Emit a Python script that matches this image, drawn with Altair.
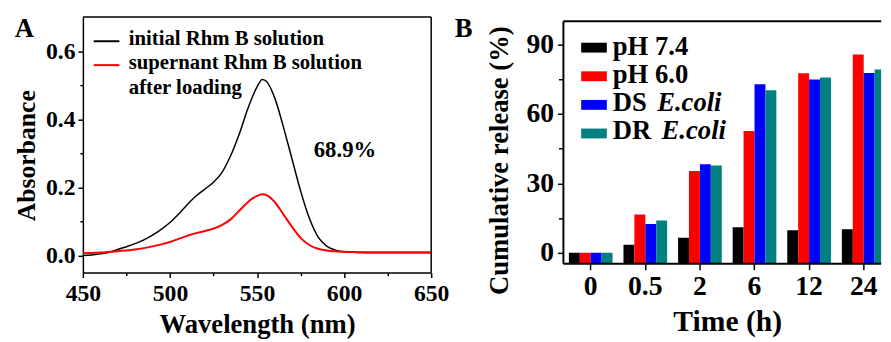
import altair as alt
import pandas as pd

FONT = "Liberation Serif"

# ---------------- Panel A data ----------------
wl_initial = [450, 455, 460, 465, 470, 475, 480, 485, 490, 495, 500, 505, 510, 515, 520,
              525, 530, 535, 540, 545, 550, 553, 555, 560, 565, 570, 575, 580, 585, 590,
              595, 600, 610, 620, 650]
abs_initial = [0.000, 0.002, 0.005, 0.010, 0.018, 0.026, 0.035, 0.046, 0.060, 0.077, 0.097,
               0.122, 0.150, 0.175, 0.195, 0.215, 0.245, 0.295, 0.360, 0.435, 0.495, 0.517,
               0.513, 0.465, 0.380, 0.285, 0.190, 0.110, 0.055, 0.028, 0.016, 0.011, 0.009,
               0.008, 0.008]
wl_super = [450, 460, 470, 480, 490, 495, 500, 505, 510, 515, 520, 525, 530, 535, 540, 545,
            550, 553, 556, 560, 565, 570, 575, 580, 585, 590, 600, 610, 650]
abs_super = [0.007, 0.009, 0.013, 0.018, 0.027, 0.033, 0.040, 0.049, 0.058, 0.066, 0.072,
             0.079, 0.090, 0.107, 0.133, 0.158, 0.175, 0.180, 0.176, 0.158, 0.122, 0.085,
             0.052, 0.031, 0.020, 0.015, 0.011, 0.010, 0.010]
legend_a = ["initial Rhm B solution", "supernant Rhm B solution", "after loading"]
legend_a_colors = ["#000000", "#ff0000"]
loading_label = "68.9%"

# ---------------- Panel B data ----------------
times = ["0", "0.5", "2", "6", "12", "24"]
series_b = ["pH 7.4", "pH 6.0", "DS E.coli", "DR E.coli"]
legend_b_main = ["pH 7.4", "pH 6.0", "DS", "DR"]
legend_b_italic = ["", "", "E.coli", "E.coli"]
colors_b = ["#000000", "#ff0000", "#0000ff", "#008080"]
ph74 = [0, 3.5, 6.5, 11.1, 9.8, 10.2]
ph60 = [0, 16.6, 35.3, 52.6, 77.5, 85.6]
ds_ecoli = [0, 12.5, 38.3, 72.8, 74.8, 77.7]
dr_ecoli = [0, 14.0, 37.7, 70.2, 75.7, 79.2]

AX = dict(labelFont=FONT, titleFont=FONT, labelFontWeight="bold", titleFontWeight="bold",
          labelColor="black", titleColor="black", tickColor="black", domainColor="black",
          tickWidth=1.5, domainWidth=1.5, grid=False)

# ---------------- Panel A ----------------
WA, HA = 353, 259
one = pd.DataFrame({"k": [0]})

df_init = pd.DataFrame({"wl": wl_initial, "ab": abs_initial})
df_sup = pd.DataFrame({"wl": wl_super, "ab": abs_super})

xA = alt.X("wl:Q", scale=alt.Scale(domain=[450, 650], nice=False, zero=False),
           axis=alt.Axis(title="Wavelength (nm)", values=list(range(450, 651, 25)),
                         labelExpr="datum.value % 50 == 0 ? datum.label : ''",
                         tickSize={"condition": {"test": "datum.value % 50 == 0", "value": 5}, "value": 3},
                         labelFlush=False, labelOverlap=False, labelFontSize=24, labelPadding=4,
                         titleFontSize=27, titleY=61, titleBaseline="alphabetic", **AX))
yA = alt.Y("ab:Q", scale=alt.Scale(domain=[-0.05, 0.7], nice=False, zero=False),
           axis=alt.Axis(title="Absorbance", values=[0, 0.1, 0.2, 0.3, 0.4, 0.5, 0.6],
                         labelExpr="round(datum.value*10) % 2 == 0 ? format(datum.value, '.1f') : ''",
                         tickSize={"condition": {"test": "round(datum.value*10) % 2 == 0", "value": 5}, "value": 3},
                         labelFlush=False, labelOverlap=False, labelFontSize=24, labelPadding=3,
                         titleFontSize=26, titleX=-49, titleY=140, titleBaseline="alphabetic", **AX))

line_init = alt.Chart(df_init).mark_line(color="#000000", strokeWidth=1.5, interpolate="monotone").encode(x=xA, y=yA)
line_sup = alt.Chart(df_sup).mark_line(color="#ff0000", strokeWidth=2, interpolate="monotone").encode(x=xA, y=yA)

frame_top_a = alt.Chart(one).mark_rule(color="black", strokeWidth=1.5).encode(
    x=alt.value(0), x2=alt.value(WA), y=alt.value(0))
frame_right_a = alt.Chart(one).mark_rule(color="black", strokeWidth=1.5).encode(
    x=alt.value(WA), y=alt.value(0), y2=alt.value(HA))

a_layers = [frame_top_a, frame_right_a, line_init, line_sup]
for i, col in enumerate(legend_a_colors):
    a_layers.append(alt.Chart(one).mark_rule(color=col, strokeWidth=2).encode(
        x=alt.value(11), x2=alt.value(37), y=alt.value(24.5 + 24.2 * i)))
for i, txt in enumerate(legend_a):
    a_layers.append(alt.Chart(pd.DataFrame({"t": [txt]})).mark_text(
        font=FONT, fontWeight="bold", fontSize=21, align="left", baseline="alphabetic", color="black"
    ).encode(text="t:N", x=alt.value(46.5), y=alt.value(28.3 + 24.7 * i)))
a_layers.append(alt.Chart(pd.DataFrame({"t": [loading_label]})).mark_text(
    font=FONT, fontWeight="bold", fontSize=23, align="left", baseline="alphabetic", color="black"
).encode(text="t:N", x=alt.value(234), y=alt.value(142)))
a_layers.append(alt.Chart(pd.DataFrame({"t": ["A"]})).mark_text(
    font=FONT, fontWeight="bold", fontSize=27, align="left", baseline="alphabetic", color="black"
).encode(text="t:N", x=alt.value(-69), y=alt.value(20)))

chartA = alt.layer(*a_layers).properties(width=WA, height=HA)

# ---------------- Panel B ----------------
WB, HB = 322, 250
rows = []
for s, vals in zip(series_b, [ph74, ph60, ds_ecoli, dr_ecoli]):
    for t, v in zip(times, vals):
        rows.append({"time": t, "series": s, "value": v})
df_b = pd.DataFrame(rows)

bars = alt.Chart(df_b).mark_bar(clip=True).encode(
    x=alt.X("time:N", sort=times,
            scale=alt.Scale(range=[0, 332], paddingInner=0.2, paddingOuter=0.1),
            axis=alt.Axis(title="Time (h)", labelAngle=0, domain=False, tickSize=6,
                          labelFontSize=28, labelPadding=3, titleFontSize=30,
                          titleY=68, titleBaseline="alphabetic", **AX)),
    xOffset=alt.XOffset("series:N", sort=series_b, scale=alt.Scale(paddingInner=0, paddingOuter=0)),
    y=alt.Y("value:Q", stack=False, scale=alt.Scale(domain=[-4.7, 101.8], nice=False, zero=False),
            axis=alt.Axis(title="Cumulative release (%)", values=[0, 15, 30, 45, 60, 75, 90],
                          labelExpr="datum.value % 30 == 0 ? datum.label : ''",
                          tickSize={"condition": {"test": "datum.value % 30 == 0", "value": 6}, "value": 5},
                          domain=False, labelOverlap=False, labelFontSize=28, labelPadding=4,
                          titleFontSize=27, titleX=-57, titleY=145, titleBaseline="alphabetic", **AX)),
    y2=alt.value(HB),
    color=alt.Color("series:N", scale=alt.Scale(domain=series_b, range=colors_b), legend=None),
)

frame_top_b = alt.Chart(one).mark_rule(color="black", strokeWidth=2).encode(
    x=alt.value(0), x2=alt.value(WB), y=alt.value(4.3))
frame_bottom_b = alt.Chart(one).mark_rule(color="black", strokeWidth=2).encode(
    x=alt.value(0), x2=alt.value(WB), y=alt.value(HB))
frame_left_b = alt.Chart(one).mark_rule(color="black", strokeWidth=2).encode(
    x=alt.value(0), y=alt.value(4.3), y2=alt.value(HB))

b_layers = [bars, frame_top_b, frame_bottom_b, frame_left_b]
for i, (main, ital, col) in enumerate(zip(legend_b_main, legend_b_italic, colors_b)):
    yc = 31 + 29 * i
    b_layers.append(alt.Chart(one).mark_rect(color=col).encode(
        x=alt.value(18), x2=alt.value(44), y=alt.value(yc - 5), y2=alt.value(yc + 5)))
    b_layers.append(alt.Chart(pd.DataFrame({"t": [main]})).mark_text(
        font=FONT, fontWeight="bold", fontSize=27, align="left", baseline="alphabetic", color="black"
    ).encode(text="t:N", x=alt.value(50), y=alt.value(38 + 28.5 * i)))
    if ital:
        b_layers.append(alt.Chart(pd.DataFrame({"t": [ital]})).mark_text(
            font=FONT, fontWeight="bold", fontStyle="italic", fontSize=27, align="left",
            baseline="alphabetic", color="black"
        ).encode(text="t:N", x=alt.value(95 if main == "DS" else 99.5), y=alt.value(38 + 28.5 * i)))
b_layers.append(alt.Chart(pd.DataFrame({"t": ["B"]})).mark_text(
    font=FONT, fontWeight="bold", fontSize=27, align="left", baseline="alphabetic", color="black"
).encode(text="t:N", x=alt.value(-110), y=alt.value(20.3)))

chartB = alt.layer(*b_layers).properties(width=WB, height=HB)

chart = alt.hconcat(chartA, chartB, spacing=6).properties(
    padding={"left": 14, "top": 13, "right": 0, "bottom": 0},
    background="white",
).configure_view(strokeWidth=0).configure_axis(grid=False)

chart.save("out.html", embed_options={"renderer": "svg", "actions": False})
